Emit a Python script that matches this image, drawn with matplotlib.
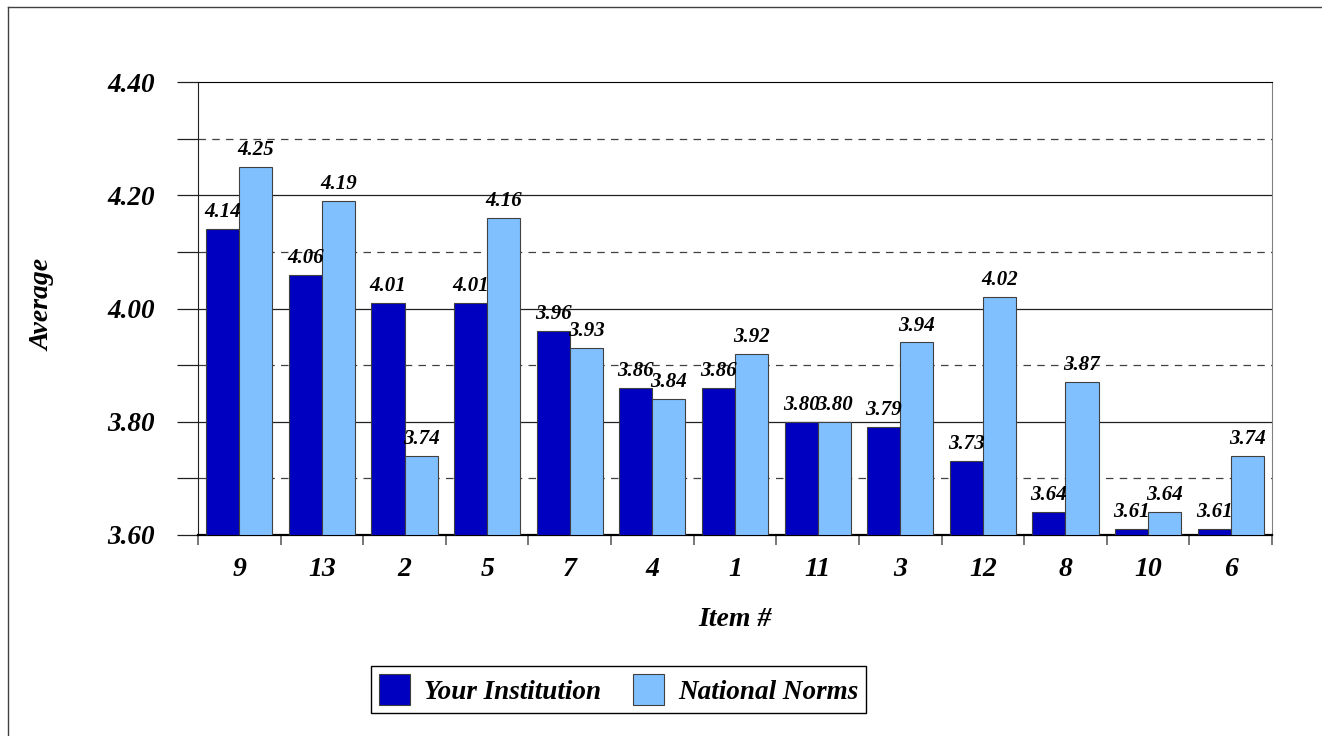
import matplotlib.pyplot as plt
import numpy as np
from matplotlib.lines import Line2D
from matplotlib.ticker import MultipleLocator, FormatStrFormatter

# Data
items = ['9', '13', '2', '5', '7', '4', '1', '11', '3', '12', '8', '10', '6']
your_inst = [4.14, 4.06, 4.01, 4.01, 3.96, 3.86, 3.86, 3.80, 3.79, 3.73, 3.64, 3.61, 3.61]
national = [4.25, 4.19, 3.74, 4.16, 3.93, 3.84, 3.92, 3.80, 3.94, 4.02, 3.87, 3.64, 3.74]

dark = '#0000C0'
light = '#80C0FF'
font = 'Liberation Serif'
plt.rcParams['font.family'] = [font, 'DejaVu Serif']

fig = plt.figure(figsize=(13.22, 7.36), dpi=100)
ax = fig.add_axes([198/1322, 1-535/736, (1272-198)/1322, (535-82)/736])

x = np.arange(len(items))
w = 0.4
b1 = ax.bar(x - w/2, np.array(your_inst) - 3.6, w, bottom=3.6, color=dark,
            edgecolor='#404040', linewidth=0.8, zorder=3, label='Your Institution')
b2 = ax.bar(x + w/2, np.array(national) - 3.6, w, bottom=3.6, color=light,
            edgecolor='#404040', linewidth=0.8, zorder=3, label='National Norms')

# value labels
for xs, vals in [(x - w/2, your_inst), (x + w/2, national)]:
    for xi, v in zip(xs, vals):
        ax.annotate(f'{v:.2f}', (xi, v), xytext=(0, 5), textcoords='offset points',
                    ha='center', va='bottom', fontsize=15, fontweight='bold',
                    fontstyle='italic', zorder=4)

ax.set_xlim(-0.5, len(items) - 0.5)
ax.set_ylim(3.6, 4.4)

# gridlines: solid majors, dashed minors
for y in [3.8, 4.0, 4.2]:
    ax.axhline(y, color='#202020', linewidth=0.9, zorder=1)
for y in [3.7, 3.9, 4.1, 4.3]:
    ax.axhline(y, color='#404040', linewidth=0.9, linestyle=(0, (6, 5)), zorder=1)

ax.yaxis.set_major_locator(MultipleLocator(0.2))
ax.yaxis.set_minor_locator(MultipleLocator(0.1))
ax.yaxis.set_major_formatter(FormatStrFormatter('%.2f'))
ax.tick_params(axis='y', which='both', length=15, width=0.9, color='#202020', pad=16,
               labelsize=19.5)
for lbl in ax.get_yticklabels():
    lbl.set_fontweight('bold')
    lbl.set_fontstyle('italic')

ax.set_xticks(x)
ax.set_xticklabels(items, fontsize=20, fontweight='bold', fontstyle='italic')
ax.set_xticks(np.arange(-0.5, len(items)), minor=True)
ax.tick_params(axis='x', which='major', length=0, pad=16)
ax.tick_params(axis='x', which='minor', length=7, width=1.2, color='#606060')

ax.spines['top'].set_color('black')
ax.spines['right'].set_color('#808080')
ax.spines['bottom'].set_linewidth(1.6)
ax.spines['left'].set_color('#202020')

fig.text(43/1322, 1-305/736, 'Average', rotation=90, ha='center', va='center',
         fontsize=20, fontweight='bold', fontstyle='italic')
fig.text(735/1322, 1-620/736, 'Item #', ha='center', va='center',
         fontsize=20, fontweight='bold', fontstyle='italic')

leg = fig.legend(handles=[b1, b2], loc='center', bbox_to_anchor=(618.5/1322, 1-689.5/736),
                 ncol=2, fancybox=False, edgecolor='black', framealpha=1,
                 prop={'family': font, 'weight': 'bold', 'style': 'italic', 'size': 19.5},
                 handlelength=1.15, handleheight=1.35, columnspacing=1.2,
                 handletextpad=0.5, borderpad=0.3, borderaxespad=0)
leg.get_frame().set_linewidth(1.0)

# outer border (left and top edges visible)
fig.add_artist(Line2D([8/1322, 8/1322], [0, 1-7/736], color='#404040', linewidth=1.0))
fig.add_artist(Line2D([8/1322, 1], [1-7/736, 1-7/736], color='#404040', linewidth=1.0))

fig.savefig('out.png', dpi=100)
